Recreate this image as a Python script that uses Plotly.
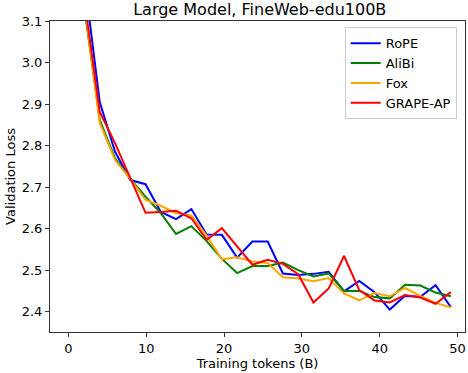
import plotly.graph_objects as go

# tokens seen (B) at each evaluation
tokens = [2.06, 4.02, 5.99, 7.95, 9.91, 11.87, 13.83, 15.80, 17.76, 19.72,
          21.68, 23.64, 25.61, 27.57, 29.53, 31.49, 33.45, 35.42, 37.38, 39.34,
          41.30, 43.26, 45.23, 47.19, 49.15]

rope = [3.20, 2.905, 2.785, 2.717, 2.707, 2.640, 2.623, 2.647, 2.586, 2.585,
        2.530, 2.569, 2.569, 2.492, 2.488, 2.491, 2.496, 2.449, 2.474, 2.447,
        2.405, 2.438, 2.436, 2.464, 2.411]

alibi = [3.13, 2.862, 2.769, 2.720, 2.677, 2.637, 2.587, 2.606, 2.570, 2.527,
         2.493, 2.510, 2.510, 2.518, 2.500, 2.485, 2.492, 2.450, 2.450, 2.435,
         2.432, 2.465, 2.463, 2.446, 2.437]

fox = [3.14, 2.855, 2.765, 2.720, 2.669, 2.655, 2.637, 2.632, 2.583, 2.526,
       2.531, 2.521, 2.517, 2.483, 2.480, 2.473, 2.481, 2.444, 2.427, 2.445,
       2.437, 2.457, 2.438, 2.421, 2.410]

grape_ap = [3.15, 2.881, 2.806, 2.722, 2.638, 2.640, 2.643, 2.625, 2.573, 2.601,
            2.557, 2.513, 2.525, 2.515, 2.490, 2.422, 2.456, 2.534, 2.452, 2.427,
            2.422, 2.440, 2.434, 2.419, 2.447]

series = [
    ("RoPE", rope, "blue"),
    ("AliBi", alibi, "green"),
    ("Fox", fox, "orange"),
    ("GRAPE-AP", grape_ap, "red"),
]

fig = go.Figure()
for name, vals, color in series:
    fig.add_trace(go.Scatter(
        x=tokens, y=vals, mode="lines", name=name,
        line=dict(color=color, width=2),
    ))

axis_style = dict(
    showline=True, linecolor="#333333", linewidth=1, mirror=True,
    ticks="outside", ticklen=4, tickcolor="#333333",
    showgrid=False, zeroline=False,
    tickfont=dict(size=13, color="black"),
)

fig.update_layout(
    width=468, height=373,
    margin=dict(l=50, r=3, t=21, b=41),
    paper_bgcolor="white", plot_bgcolor="white",
    font=dict(family="DejaVu Sans", color="black"),
    title=dict(text="Large Model, FineWeb-edu100B", x=0.555, xanchor="center",
               yref="container", y=0.975, yanchor="middle", font=dict(size=16)),
    xaxis=dict(range=[-2.37, 50.97], tickvals=[0, 10, 20, 30, 40, 50],
               title=dict(text="Training tokens (B)", font=dict(size=13), standoff=1),
               **axis_style),
    yaxis=dict(range=[2.351, 3.1], tickvals=[2.4, 2.5, 2.6, 2.7, 2.8, 2.9, 3.0, 3.1],
               tickformat=".1f",
               title=dict(text="Validation Loss", font=dict(size=13), standoff=3),
               **axis_style),
    legend=dict(x=0.98, y=0.98, xanchor="right", yanchor="top",
                bgcolor="rgba(255,255,255,0.8)", bordercolor="#cccccc", borderwidth=1,
                font=dict(size=13)),
    showlegend=True,
)

# page has a default body margin; drop it so the figure sits at the window corner
fig.write_html("out.html", config={"displayModeBar": False},
               post_script="document.body.style.margin='0';")
